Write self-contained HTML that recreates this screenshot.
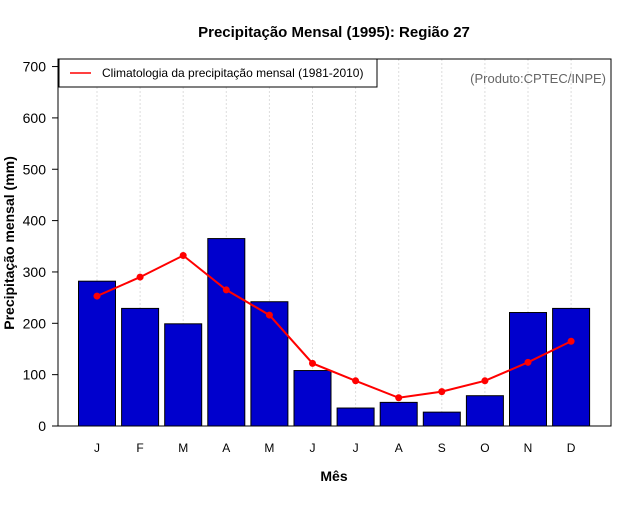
<!DOCTYPE html>
<html><head><meta charset="utf-8"><style>
body{margin:0;background:#fff}
text{font-family:"Liberation Sans",sans-serif}
</style></head><body>
<svg id="chart" width="640" height="500" xmlns="http://www.w3.org/2000/svg">
<rect width="640" height="500" fill="#fff"/>
<text x="334" y="37" text-anchor="middle" font-size="15" font-weight="bold">Precipitação Mensal (1995): Região 27</text>
<text x="334" y="481" text-anchor="middle" font-size="14" font-weight="bold">Mês</text>
<text transform="translate(14,243) rotate(-90)" text-anchor="middle" font-size="14" font-weight="bold">Precipitação mensal (mm)</text>
<g id="grid"></g><g id="bars"></g><g id="line"></g><g id="axes"></g>
<rect x="58" y="59" width="553" height="367" fill="none" stroke="#000"/>
<g>
<rect x="59" y="59" width="318" height="28" fill="#fff" stroke="#000"/>
<line x1="70" y1="73" x2="91" y2="73" stroke="#f00" stroke-width="1.5"/>
<text x="102" y="77" font-size="12">Climatologia da precipitação mensal (1981-2010)</text>
</g>
<text x="606" y="83" text-anchor="end" font-size="13" fill="#666">(Produto:CPTEC/INPE)</text>
</svg>
<script>
const months=["J","F","M","A","M","J","J","A","S","O","N","D"];
const observed=[282,229,199,365,242,108,35,46,27,59,221,229];
const climatology=[253,290,332,265,216,122,88,55,67,88,124,165];
const yTicks=[0,100,200,300,400,500,600,700];
const NS="http://www.w3.org/2000/svg";
const x=i=>97+i*43.1;
const y=v=>426-v*0.5135;
function mk(tag,attrs,parent){const e=document.createElementNS(NS,tag);for(const k in attrs)e.setAttribute(k,attrs[k]);document.getElementById(parent).appendChild(e);return e;}
months.forEach((m,i)=>{
  const g=mk("line",{x1:x(i),x2:x(i),y1:59,y2:426,stroke:"#ddd","stroke-dasharray":"2,2"},"grid");
  
  
  const b=mk("rect",{x:x(i)-18.5,y:y(observed[i]),width:37,height:426-y(observed[i]),fill:"#0000cd",stroke:"#000","stroke-width":1},"bars");
  
  
  const t=mk("text",{x:x(i),y:452,"text-anchor":"middle","font-size":12},"axes");
  t.textContent=m;
  
  
});
const pl=mk("polyline",{points:climatology.map((v,i)=>x(i)+","+y(v)).join(" "),fill:"none",stroke:"#f00","stroke-width":2},"line");


climatology.forEach((v,i)=>{
  const c=mk("circle",{cx:x(i),cy:y(v),r:3.5,fill:"#f00"},"line");
  
  
});
yTicks.forEach(v=>{
  const l=mk("line",{x1:52,x2:58,y1:y(v),y2:y(v),stroke:"#000"},"axes");
  
  
  const t=mk("text",{x:46,y:y(v)+5,"text-anchor":"end","font-size":14},"axes");
  t.textContent=v;
  
  
});
</script>
</body></html>
